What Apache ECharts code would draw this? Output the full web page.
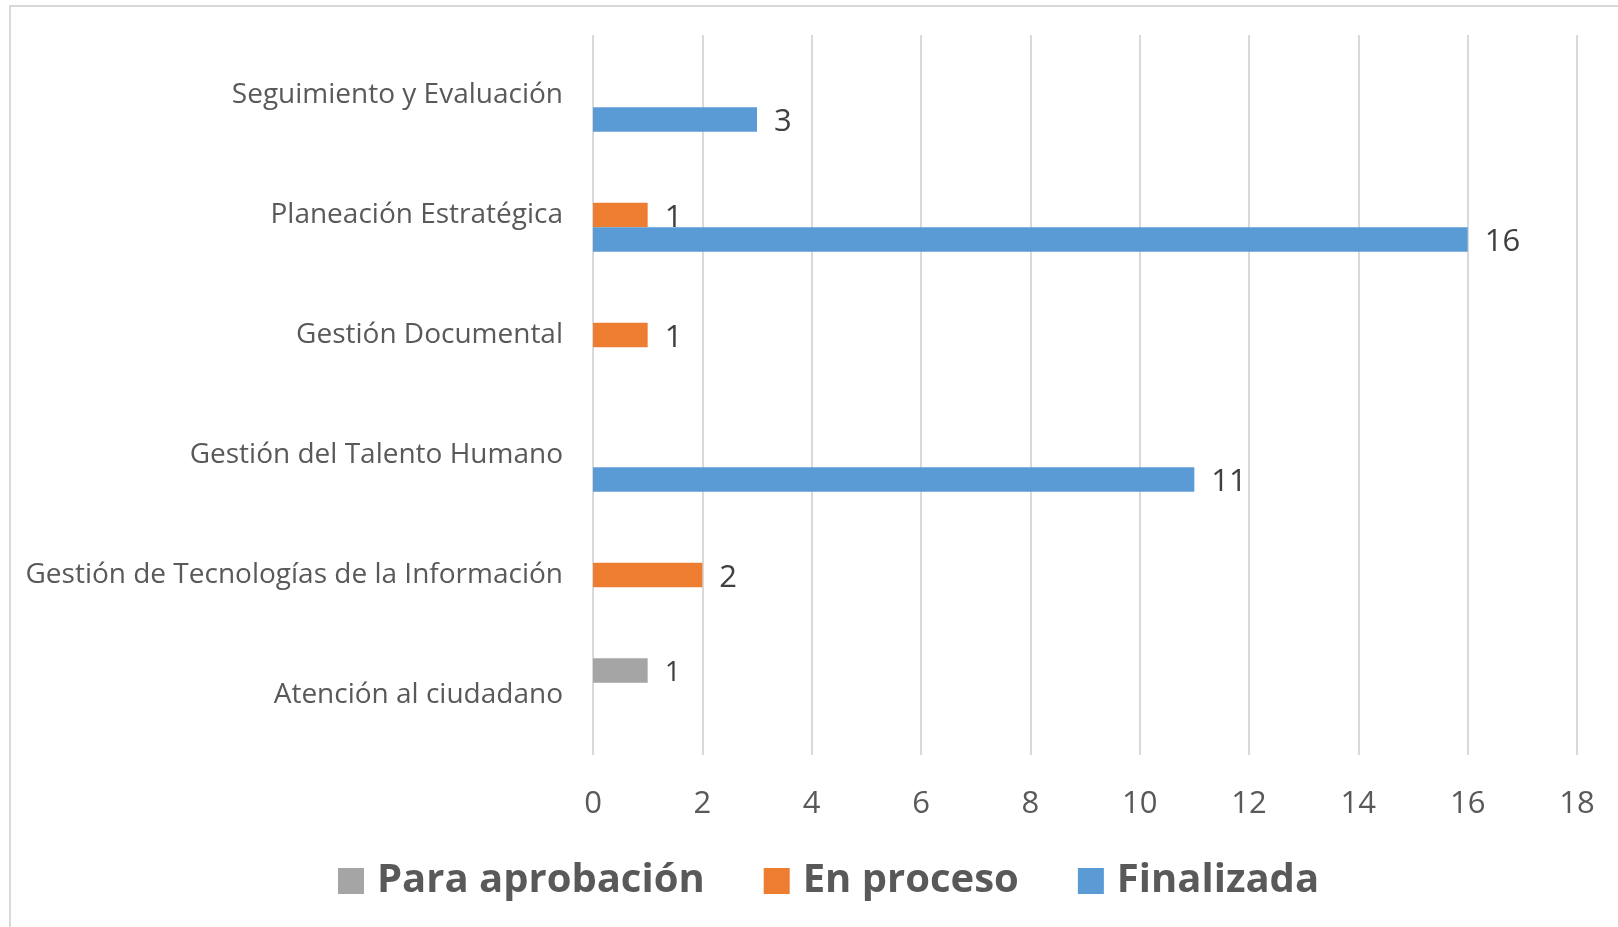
<!DOCTYPE html>
<html>
<head>
<meta charset="utf-8">
<script src="https://cdn.jsdelivr.net/npm/echarts@6/dist/echarts.min.js"></script>
<style>
html,body{margin:0;padding:0;background:#fff;}
#chart{width:1618px;height:927px;}
</style>
</head>
<body>
<div id="chart"></div>
<script>
const categories = ["Atención al ciudadano", "Gestión de Tecnologías de la Información", "Gestión del Talento Humano", "Gestión Documental", "Planeación Estratégica", "Seguimiento y Evaluación"];
const seriesNames = ["Para aprobación", "En proceso", "Finalizada"];
const paraAprobacion = [1, null, null, null, null, null];
const enProceso = [null, 2, null, 1, 1, null];
const finalizada = [null, null, 11, null, 16, 3];
const xTicks = [0, 2, 4, 6, 8, 10, 12, 14, 16, 18];

const FONT = '"Open Sans", sans-serif';
const chart = echarts.init(document.getElementById('chart'));

function mkSeries(name, data, color, labelSize) {
  return {
    name: name,
    type: 'bar',
    data: data,
    barWidth: 24.5,
    barGap: '0%',
    itemStyle: { color: color },
    label: {
      show: true,
      position: 'right',
      distance: 17,
      offset: [0, 3],
      color: '#404040',
      fontSize: labelSize,
      fontFamily: FONT
    }
  };
}

chart.setOption({
  animation: false,
  backgroundColor: '#fff',
  graphic: [{
    type: 'rect',
    shape: { x: 10, y: 6, width: 1700, height: 1000 },
    style: { fill: 'none', stroke: '#d9d9d9', lineWidth: 2 },
    silent: true
  }],
  grid: { left: 593, right: 41, top: 35, bottom: 172, containLabel: false },
  legend: {
    data: seriesNames,
    left: 333,
    top: 856,
    itemWidth: 26,
    itemHeight: 26,
    itemGap: 59,
    icon: 'rect',
    textStyle: {
      fontFamily: FONT,
      fontSize: 40,
      fontWeight: 'bold',
      color: '#595959',
      padding: [0, 0, 0, 8]
    }
  },
  xAxis: {
    type: 'value',
    min: xTicks[0],
    max: xTicks[xTicks.length - 1],
    interval: 2,
    axisLine: { show: false },
    axisTick: { show: false },
    splitLine: { show: true, lineStyle: { color: '#d9d9d9', width: 2 } },
    axisLabel: {
      margin: 34,
      fontSize: 31,
      fontFamily: FONT,
      color: '#595959'
    }
  },
  yAxis: {
    type: 'category',
    data: categories,
    axisLine: { show: false },
    axisTick: { show: false },
    splitLine: { show: false },
    axisLabel: {
      margin: 30,
      fontSize: 28,
      fontFamily: FONT,
      color: '#595959',
      padding: [4, 0, 0, 0]
    }
  },
  series: [
    mkSeries(seriesNames[0], paraAprobacion, '#a5a5a5', 28),
    mkSeries(seriesNames[1], enProceso, '#ed7d31', 31),
    mkSeries(seriesNames[2], finalizada, '#5b9bd5', 31)
  ]
});
</script>
</body>
</html>
